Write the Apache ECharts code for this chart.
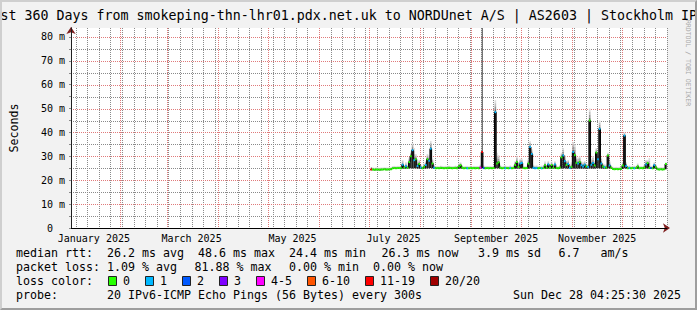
<!DOCTYPE html>
<html><head><meta charset="utf-8">
<script src="https://cdn.jsdelivr.net/npm/echarts@6/dist/echarts.min.js"></script>
<style>
html,body{margin:0;padding:0;background:#f2f2f2;}
#wrap{position:relative;width:697px;height:310px;overflow:hidden;background:#f2f2f2;}
#chart{position:absolute;left:0;top:0;width:697px;height:310px;}
#frame{position:absolute;left:0;top:0;width:697px;height:310px;box-sizing:border-box;border-style:solid;border-width:2px;border-color:#cfcfcf #9e9e9e #9e9e9e #cfcfcf;pointer-events:none;}
</style></head><body>
<div id="wrap"><div id="chart"></div><div id="frame"></div></div>
<script>
// ---------- data ----------
const TITLE = 'st 360 Days from smokeping-thn-lhr01.pdx.net.uk to NORDUnet A/S | AS2603 | Stockholm IP';
const X_START = Date.UTC(2025, 0, 2, 4, 25, 30);
const X_END = Date.UTC(2025, 11, 28, 4, 25, 30);
const DATA_START = Date.UTC(2025, 6, 1);
const STEP_MS = 86400000;
const Y_MAX = 83.75;

const monthLabelText = ['January 2025', 'March 2025', 'May 2025', 'July 2025', 'September 2025', 'November 2025'];
const monthLabelAt = ['2025-01-16', '2025-03-16', '2025-05-16', '2025-07-16', '2025-09-16', '2025-11-16'];
const monthStarts = ['2025-02-01', '2025-03-01', '2025-04-01', '2025-05-01', '2025-06-01', '2025-07-01',
  '2025-08-01', '2025-09-01', '2025-10-01', '2025-11-01', '2025-12-01'];
const weekStarts = ['2025-01-05', '2025-01-12', '2025-01-19', '2025-01-26', '2025-02-02', '2025-02-09', '2025-02-16', '2025-02-23',
  '2025-03-02', '2025-03-09', '2025-03-16', '2025-03-23', '2025-03-30', '2025-04-06', '2025-04-13', '2025-04-20', '2025-04-27',
  '2025-05-04', '2025-05-11', '2025-05-18', '2025-05-25', '2025-06-08', '2025-06-15', '2025-06-22', '2025-06-29',
  '2025-07-06', '2025-07-13', '2025-07-20', '2025-07-27', '2025-08-03', '2025-08-10', '2025-08-17', '2025-08-24', '2025-08-31',
  '2025-09-07', '2025-09-14', '2025-09-21', '2025-09-28', '2025-10-05', '2025-10-12', '2025-10-19', '2025-10-26',
  '2025-11-02', '2025-11-09', '2025-11-16', '2025-11-23', '2025-11-30', '2025-12-07', '2025-12-14', '2025-12-21', '2025-12-28'];
const yMajor = [10, 20, 30, 40, 50, 60, 70, 80];
const yMinor = [5, 15, 25, 35, 45, 55, 65, 75];

// median rtt (ms), one value per day from 2025-07-01
const median = [
  null, 24.5, 24.5, 24.4, 24.5, 24.5, 24.4, 24.5, 24.5, 24.6,
  24.5, 24.5, 24.6, 24.6, 25.0, 25.1, 25.0, 25.1, 25.1, 25.0,
  26.5, 25.3, 25.9, 25.2, 27.6, 30.0, 32.6, 28.4, 28.8, 26.0,
  26.8, 25.3, 25.0, 25.6, 26.4, 28.8, 28.2, 33.2, 27.0, 25.2,
  25.0, 25.1, 25.0, 25.2, 25.1, 25.0, 25.1, 25.0, 25.2, 25.1,
  25.0, 25.1, 25.2, 25.0, 25.9, 26.3, 25.3, 25.0, 25.1, 25.0,
  25.0, 25.1, 25.0, 25.1, 25.0, 25.1, 25.0, 25.3, 31.8, 25.1,
  25.0, 25.1, 25.0, 25.1, 25.0, 25.1, 48.5, 27.0, 27.5, 25.3,
  25.0, 25.1, 25.0, 25.1, 25.0, 25.1, 25.0, 25.1, 26.4, 27.6,
  25.6, 27.0, 27.2, 25.1, 25.0, 25.1, 27.0, 33.9, 31.0, 25.2,
  25.0, 25.1, 25.0, 25.1, 25.0, 25.1, 26.3, 25.2, 26.6, 25.1,
  26.4, 25.2, 26.6, 25.1, 25.0, 25.3, 29.6, 30.4, 28.0, 26.4,
  26.8, 25.1, 25.6, 31.8, 30.5, 27.3, 27.0, 27.6, 26.3, 25.8,
  26.5, 25.8, 25.5, 45.0, 26.5, 27.2, 26.2, 31.6, 28.8, 41.5,
  27.0, 25.8, 25.5, 25.2, 30.4, 26.2, 25.3, 24.7, 24.6, 24.7,
  24.6, 24.7, 24.8, 26.2, 38.7, 26.0, 25.0, 25.1, 25.0, 25.1,
  25.0, 25.1, 25.8, 25.0, 25.1, 25.0, 25.3, 26.6, 27.2, 25.2,
  25.1, 25.0, 26.3, 25.4, 24.6, 24.5, 24.6, 24.5, 24.6, 26.8
];
// lost pings out of 20
const lost = [
  0, 14, 0, 0, 0, 0, 0, 0, 0, 0,
  0, 0, 0, 0, 0, 0, 0, 0, 0, 0,
  1, 0, 1, 0, 0, 0, 1, 1, 0, 1,
  0, 1, 0, 0, 1, 0, 1, 1, 0, 1,
  0, 0, 0, 0, 0, 0, 0, 0, 0, 0,
  0, 0, 0, 0, 0, 0, 0, 0, 0, 1,
  0, 0, 0, 0, 0, 0, 0, 5, 16, 2,
  0, 0, 0, 0, 0, 0, 1, 0, 0, 0,
  0, 0, 1, 0, 0, 1, 0, 0, 0, 0,
  0, 1, 1, 0, 0, 0, 0, 1, 1, 1,
  1, 1, 0, 0, 1, 0, 0, 0, 1, 0,
  0, 0, 1, 0, 0, 0, 0, 1, 1, 0,
  1, 1, 0, 1, 0, 0, 1, 0, 1, 1,
  1, 0, 1, 0, 1, 1, 0, 0, 1, 1,
  1, 0, 1, 0, 0, 1, 0, 0, 0, 0,
  0, 0, 0, 0, 1, 1, 0, 1, 0, 0,
  1, 0, 0, 0, 0, 0, 0, 1, 0, 0,
  2, 0, 1, 0, 0, 0, 0, 0, 0, 0
];
// smoke: lowest and highest ping (ms)
const smokeLow = [
  null, 24.2, 24.2, 24.1, 24.2, 24.2, 24.1, 24.2, 24.2, 24.3,
  24.2, 24.2, 24.3, 24.3, 24.7, 24.8, 24.7, 24.8, 24.8, 24.7,
  24.9, 24.9, 24.9, 24.9, 25.0, 25.0, 25.1, 25.0, 25.0, 24.9,
  24.9, 24.9, 24.7, 24.9, 24.9, 25.0, 25.0, 25.1, 25.0, 24.9,
  24.7, 24.8, 24.7, 24.9, 24.8, 24.7, 24.8, 24.7, 24.9, 24.8,
  24.7, 24.8, 24.9, 24.7, 24.9, 24.9, 24.9, 24.7, 24.8, 24.7,
  24.7, 24.8, 24.7, 24.8, 24.7, 24.8, 24.7, 24.9, 25.0, 24.8,
  24.7, 24.8, 24.7, 24.8, 24.7, 24.8, 25.0, 25.0, 25.0, 24.9,
  24.7, 24.8, 24.7, 24.8, 24.7, 24.8, 24.7, 24.8, 24.9, 25.0,
  24.9, 24.9, 25.0, 24.8, 24.7, 24.8, 24.9, 25.0, 25.0, 24.9,
  24.7, 24.8, 24.7, 24.8, 24.7, 24.8, 24.9, 24.9, 24.9, 24.8,
  24.9, 24.9, 24.9, 24.8, 24.7, 24.9, 25.0, 25.0, 25.0, 24.9,
  24.9, 24.8, 24.9, 25.0, 25.0, 24.9, 24.9, 24.9, 24.9, 24.9,
  24.9, 24.9, 24.9, 25.0, 24.9, 24.9, 24.9, 25.0, 25.0, 25.0,
  24.9, 24.9, 24.9, 24.9, 25.0, 24.9, 24.9, 24.4, 24.3, 24.4,
  24.3, 24.4, 24.5, 24.8, 25.0, 24.9, 24.7, 24.8, 24.7, 24.8,
  24.7, 24.8, 24.9, 24.7, 24.8, 24.7, 24.9, 24.9, 25.0, 24.9,
  24.8, 24.7, 24.9, 24.9, 24.3, 24.2, 24.3, 24.2, 24.3, 24.6
];
const smokeHigh = [
  null, 25.3, 25.3, 25.2, 25.3, 25.3, 25.2, 25.3, 25.3, 25.4,
  25.3, 25.3, 25.4, 25.4, 25.9, 26.0, 25.9, 26.0, 26.0, 25.9,
  28.5, 26.4, 27.5, 26.2, 29.5, 32.0, 35.5, 33.5, 31.0, 27.5,
  28.5, 26.5, 26.0, 27.0, 28.0, 31.0, 30.5, 36.4, 29.0, 26.5,
  25.9, 26.0, 25.9, 26.1, 26.0, 25.9, 26.0, 25.9, 26.1, 26.0,
  25.9, 26.0, 26.1, 25.9, 27.0, 27.5, 26.3, 25.9, 26.0, 26.0,
  25.9, 26.0, 25.9, 26.0, 25.9, 26.0, 25.9, 26.5, 84.0, 26.2,
  25.9, 26.0, 25.9, 26.0, 25.9, 26.2, 53.5, 31.5, 30.5, 26.5,
  25.9, 26.0, 26.2, 26.0, 25.9, 26.2, 25.9, 26.0, 28.0, 30.0,
  27.0, 29.0, 29.0, 26.0, 25.9, 26.0, 29.0, 36.3, 33.0, 26.5,
  26.1, 26.2, 25.9, 26.0, 26.1, 26.0, 27.8, 26.2, 28.0, 26.0,
  27.8, 26.2, 28.0, 26.0, 25.9, 26.5, 31.5, 33.5, 30.5, 28.0,
  28.5, 26.3, 27.5, 36.0, 35.0, 29.5, 29.5, 30.0, 28.0, 27.5,
  28.0, 27.0, 26.8, 50.0, 29.0, 30.0, 28.0, 33.5, 31.5, 45.0,
  29.5, 27.0, 26.8, 26.5, 31.5, 28.0, 26.3, 25.6, 25.5, 25.6,
  25.5, 25.6, 25.8, 27.5, 40.0, 27.5, 26.0, 26.2, 25.9, 26.0,
  26.1, 26.0, 27.0, 25.9, 26.0, 25.9, 26.5, 28.5, 28.5, 29.3,
  26.1, 26.0, 27.5, 26.5, 25.5, 25.4, 25.5, 25.4, 25.5, 27.5
];

const lossLabels = ['0', '1', '2', '3', '4-5', '6-10', '11-19', '20/20'];
const lossUpper = [0, 1, 2, 3, 5, 10, 19, 20];
const lossColors = ['#26ff00', '#00b8ff', '#0059ff', '#7e00ff', '#ff00ff', '#ff5500', '#ff0000', '#a00000'];

// legend texts with their column (monospace character cells)
const legendRtt = [['median rtt:', 0], ['26.2 ms avg', 13], ['48.6 ms max', 26], ['24.4 ms min', 39], ['26.3 ms now', 52.2], ['3.9 ms sd', 66], ['6.7', 77.5], ['am/s', 83.5]];
const legendLoss = [['packet loss:', 0], ['1.09 % avg', 13], ['81.88 % max', 25.5], ['0.00 % min', 39], ['0.00 % now', 51]];
const legendProbe = [['probe:', 0], ['20 IPv6-ICMP Echo Pings (56 Bytes) every 300s', 13]];
const stampText = 'Sun Dec 28 04:25:30 2025';

// ---------- build ----------
const FONT = '"DejaVu Sans Mono", "Liberation Mono", monospace';
const CH = 7, LEG_X = 16;
function lossClass(n) { for (let k = 0; k < lossUpper.length; k++) if (n <= lossUpper[k]) return k; return lossUpper.length - 1; }

const monthStartT = monthStarts.map(Date.parse);
const labelT = monthLabelAt.map(Date.parse);
const weekT = weekStarts.map(Date.parse);

const smokeData = [], stepLine = [], colorData = [];
for (let i = 0; i < median.length; i++) {
  if (median[i] == null) continue;
  const t0 = DATA_START + i * STEP_MS, t1 = t0 + STEP_MS;
  smokeData.push([t0, t1, smokeLow[i], median[i], smokeHigh[i], lost[i]]);
  stepLine.push([t0, median[i]], [t1, median[i]]);
  colorData.push([t0, t1, median[i], lossClass(lost[i])]);
}

const chart = echarts.init(document.getElementById('chart'), null, { renderer: 'svg' });

const graphics = [];
graphics.push({ type: 'text', x: 0.5, y: 15, silent: true,
  style: { text: TITLE, font: '13.3px ' + FONT, fill: '#000', align: 'left', verticalAlign: 'middle' } });
graphics.push({ type: 'text', x: 688, y: 63, rotation: -Math.PI / 2, silent: true,
  style: { text: 'RRDTOOL / TOBI OETIKER', font: '6.5px ' + FONT, fill: '#a8a8a8', align: 'center', verticalAlign: 'middle' } });
function addLine(items, y) {
  items.forEach(([txt, col]) => graphics.push({ type: 'text', x: LEG_X + col * CH, y: y, silent: true,
    style: { text: txt, font: '11.63px ' + FONT, fill: '#000', align: 'left', verticalAlign: 'middle' } }));
}
addLine(legendRtt, 253);
addLine(legendLoss, 267);
addLine([['loss color:', 0]], 281);
addLine(legendProbe, 295);
graphics.push({ type: 'text', x: 681, y: 295, silent: true,
  style: { text: stampText, font: '11.63px ' + FONT, fill: '#000', align: 'right', verticalAlign: 'middle' } });
let bx = 108;
lossLabels.forEach((lab, k) => {
  graphics.push({ type: 'rect', silent: true, shape: { x: bx + 0.5, y: 276.5, width: 8, height: 9 },
    style: { fill: lossColors[k], stroke: '#222', lineWidth: 1 } });
  const lx = bx + 15;
  graphics.push({ type: 'text', x: lx, y: 281, silent: true,
    style: { text: lab, font: '11.63px ' + FONT, fill: '#000', align: 'left', verticalAlign: 'middle' } });
  bx = lx + lab.length * CH + 15;
});

const GRID_COLORS = ['#8a8a8a', '#e07a7a'];   // minor, major
// [x, y, kind (0 minor / 1 major), vertical?]
const gridData = weekT.map(t => [t, 0, 0, 1])
  .concat(yMinor.map(v => [X_START, v, 0, 0]))
  .concat(monthStartT.map(t => [t, 0, 1, 1]))
  .concat(yMajor.map(v => [X_START, v, 1, 0]));

const option = {
  animation: false,
  backgroundColor: 'transparent',
  grid: { left: 67, top: 28, width: 600, height: 200, show: true, backgroundColor: '#ffffff', borderWidth: 0 },
  graphic: graphics,
  xAxis: [
    { type: 'value', min: X_START, max: X_END, position: 'bottom', z: 3,
      axisLine: { show: true, lineStyle: { color: '#000', width: 1 } },
      axisTick: { show: false },
      splitLine: { show: false },
      axisLabel: { show: true, customValues: labelT, margin: 5, fontSize: 10, fontFamily: FONT, color: '#000',
        hideOverlap: false, showMinLabel: true, showMaxLabel: true,
        formatter: v => { const k = labelT.indexOf(v); return k >= 0 ? monthLabelText[k] : ''; } } },
    { type: 'value', min: X_START, max: X_END, position: 'bottom', z: 1,
      axisLine: { show: true, symbol: ['none', 'arrow'], symbolSize: [7, 7], symbolOffset: [0, 3], lineStyle: { color: '#7f1f1f', width: 1 } },
      axisTick: { show: false }, axisLabel: { show: false }, splitLine: { show: false } }
  ],
  yAxis: [
    { type: 'value', min: 0, max: Y_MAX, interval: 5, position: 'left', z: 3,
      name: 'Seconds', nameLocation: 'middle', nameGap: 51, nameRotate: 90,
      nameTextStyle: { fontSize: 11.63, fontFamily: FONT, color: '#000' },
      axisLine: { show: true, lineStyle: { color: '#1f1f1f', width: 1 } },
      axisTick: { show: true, length: 2, lineStyle: { color: '#888' } },
      splitLine: { show: false },
      axisLabel: { margin: 6, fontSize: 10, fontFamily: FONT, color: '#000', showMaxLabel: false,
        formatter: v => v === 0 ? '0\u00a0\u00a0' : (yMajor.includes(v) ? v + ' m' : '') } },
    { type: 'value', min: 0, max: Y_MAX, position: 'left', z: 1,
      axisLine: { show: true, symbol: ['none', 'arrow'], symbolSize: [7, 7], symbolOffset: [0, 1], lineStyle: { color: '#7f1f1f', width: 1 } },
      axisTick: { show: false }, axisLabel: { show: false }, splitLine: { show: false } }
  ],
  series: [
    { type: 'custom', name: 'gridLines', z: 1, silent: true, data: gridData, encode: { x: 0, y: 1 },
      renderItem: (params, api) => {
        const cs = params.coordSys;
        const p = api.coord([api.value(0), api.value(1)]);
        const st = { stroke: GRID_COLORS[api.value(2)], lineWidth: 1, lineDash: [1, 1], fill: 'none' };
        if (api.value(3) === 1) {
          const x = Math.round(p[0]) + 0.5;
          return { type: 'line', shape: { x1: x, y1: cs.y, x2: x, y2: cs.y + cs.height }, style: st };
        }
        const y = Math.round(p[1]) + 0.5;
        return { type: 'line', shape: { x1: cs.x, y1: y, x2: cs.x + cs.width, y2: y }, style: st };
      } },
    { type: 'custom', name: 'smoke', z: 2, silent: true, clip: true, data: smokeData, encode: { x: [0, 1], y: [2, 3, 4] },
      renderItem: (params, api) => {
        const x0 = api.coord([api.value(0), 0])[0], x1 = api.coord([api.value(1), 0])[0];
        const yLo = api.coord([api.value(0), api.value(2)])[1];
        const yMed = api.coord([api.value(0), api.value(3)])[1];
        const yHi = api.coord([api.value(0), api.value(4)])[1];
        const w = x1 - x0;
        const ch = [{ type: 'rect', shape: { x: x0, y: yMed, width: w, height: yLo - yMed }, style: { fill: '#1c1c1c' } }];
        if (api.value(5) >= 6) {
          ch.push({ type: 'rect', shape: { x: x0 + w * 0.3, y: yHi, width: 1, height: yMed - yHi }, style: { fill: '#4a4a4a' } });
        } else {
          const shades = ['#6a6a6a', '#969696', '#bcbcbc', '#dcdcdc'];
          const h = (yMed - yHi) / shades.length;
          shades.forEach((c, k) => ch.push({ type: 'rect', shape: { x: x0, y: yMed - (k + 1) * h, width: w, height: h }, style: { fill: c } }));
        }
        return { type: 'group', children: ch };
      } },
    { type: 'line', name: 'median', z: 3, silent: true, data: stepLine, showSymbol: false,
      lineStyle: { color: '#000', width: 1 } },
    { type: 'custom', name: 'loss', z: 4, silent: true, data: colorData, encode: { x: [0, 1], y: 2 },
      renderItem: (params, api) => {
        const x0 = api.coord([api.value(0), 0])[0], x1 = api.coord([api.value(1), 0])[0];
        const y = api.coord([api.value(0), api.value(2)])[1];
        return { type: 'line', shape: { x1: x0, y1: y, x2: x1, y2: y },
          style: { stroke: lossColors[api.value(3)], lineWidth: 2, lineCap: 'butt' } };
      } }
  ]
};
chart.setOption(option);
</script></body></html>
